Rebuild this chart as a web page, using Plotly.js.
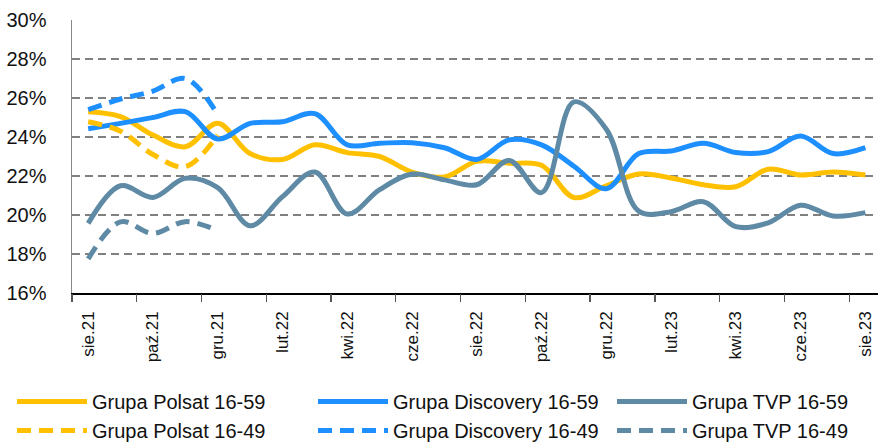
<!DOCTYPE html>
<html>
<head>
<meta charset="utf-8">
<script src="https://cdn.plot.ly/plotly-3.0.1.min.js"></script>
<style>
  html, body { margin: 0; padding: 0; background: #fff; }
  #plot { width: 878px; height: 445px; }
</style>
</head>
<body>
<div id="plot"></div>
<script>
// months sie.21 .. sie.23
var months = ["sie.21", "wrz.21", "paź.21", "lis.21", "gru.21", "sty.22", "lut.22", "mar.22", "kwi.22",
  "maj.22", "cze.22", "lip.22", "sie.22", "wrz.22", "paź.22", "lis.22", "gru.22", "sty.23", "lut.23",
  "mar.23", "kwi.23", "maj.23", "cze.23", "lip.23", "sie.23"];

// share in %
var polsat59 = [25.3, 25.05, 24.1, 23.5, 24.7, 23.15, 22.85, 23.6, 23.2, 23.0, 22.2, 21.95, 22.75,
  22.65, 22.55, 20.9, 21.5, 22.1, 21.9, 21.55, 21.45, 22.35, 22.05, 22.2, 22.05];
var discovery59 = [24.42, 24.7, 25.0, 25.3, 23.9, 24.7, 24.78, 25.2, 23.6, 23.68, 23.71, 23.45, 22.85,
  23.85, 23.6, 22.5, 21.35, 23.15, 23.28, 23.68, 23.2, 23.25, 24.05, 23.15, 23.45];
var tvp59 = [19.57, 21.5, 20.9, 21.88, 21.4, 19.45, 20.94, 22.2, 20.05, 21.3, 22.1, 21.8, 21.55,
  22.8, 21.15, 25.8, 24.4, 20.2, 20.17, 20.68, 19.4, 19.6, 20.5, 19.95, 20.12];

var polsat49 = [24.78, 24.3, 23.1, 22.48, 24.1];
var discovery49 = [25.4, 25.95, 26.35, 27.0, 25.15];
var tvp49 = [17.75, 19.65, 19.06, 19.66, 19.2];

var yTicks = [16, 18, 20, 22, 24, 26, 28, 30];

var FONT = "Liberation Sans, Arial, sans-serif";
var YELLOW = "#FFC000", BLUE = "#1E8FFF", GREY = "#5F8AA6";

var idx = months.map(function (m, i) { return i; });
var labelIdx = idx.filter(function (i) { return i % 2 === 0; });
var labelText = labelIdx.map(function (i) { return months[i]; });
var boundaries = labelIdx.map(function (i) { return i - 0.5; });

// one legend per column (Polsat / Discovery / TVP)
function series(name, y, color, dash, leg) {
  return {
    x: idx.slice(0, y.length), y: y, name: name, type: "scatter", mode: "lines",
    line: { color: color, width: 5, shape: "spline", smoothing: 1, dash: dash },
    legend: leg, legendgroup: name, hoverinfo: "skip"
  };
}

var DASH = "14px,8px";
var data = [
  series("Grupa Polsat 16-59", polsat59, YELLOW, "solid", "legend"),
  series("Grupa Discovery 16-59", discovery59, BLUE, "solid", "legend2"),
  series("Grupa TVP 16-59", tvp59, GREY, "solid", "legend3"),
  series("Grupa Polsat 16-49", polsat49, YELLOW, DASH, "legend"),
  series("Grupa Discovery 16-49", discovery49, BLUE, DASH, "legend2"),
  series("Grupa TVP 16-49", tvp49, GREY, DASH, "legend3"),
  // empty trace so the boundary tick axis gets drawn
  { x: [], y: [], xaxis: "x2", type: "scatter", showlegend: false, hoverinfo: "skip" }
];

var xRange = [-0.5, 24.39];

function legendAt(xpx) {
  return {
    orientation: "v", xref: "container", yref: "container",
    x: xpx / 878, y: 1 - 382 / 445, xanchor: "left", yanchor: "top",
    itemwidth: 70, tracegroupgap: 9, traceorder: "normal",
    font: { family: FONT, size: 20, color: "#111" },
    bgcolor: "rgba(0,0,0,0)", borderwidth: 0
  };
}

var layout = {
  width: 878, height: 445,
  margin: { l: 72, r: 0, t: 20, b: 152, autoexpand: false },
  paper_bgcolor: "#fff", plot_bgcolor: "#fff",
  font: { family: FONT, color: "#111", size: 18 },
  showlegend: true,
  xaxis: {
    range: xRange, tickmode: "array", tickvals: labelIdx, ticktext: labelText,
    tickangle: -90, ticks: "", showgrid: false, zeroline: false,
    showline: true, linecolor: "#000", linewidth: 1.5, automargin: false,
    ticklabelstandoff: 10,
    tickfont: { family: FONT, size: 17, color: "#111" }
  },
  xaxis2: {
    overlaying: "x", range: xRange, tickmode: "array", tickvals: boundaries,
    ticks: "outside", ticklen: 8, tickwidth: 1.3, tickcolor: "#555",
    showticklabels: false, showgrid: false, zeroline: false, showline: false
  },
  yaxis: {
    range: [16, 30], tickmode: "array", tickvals: yTicks,
    ticktext: yTicks.map(function (v) { return v + "%"; }),
    showgrid: true, gridcolor: "#808080", gridwidth: 2, griddash: "8px,5px",
    zeroline: false, showline: true, linecolor: "#888", linewidth: 1.5,
    ticks: "", ticklabelstandoff: 20, automargin: false,
    tickfont: { family: FONT, size: 20, color: "#111" }
  },
  legend: legendAt(12),
  legend2: legendAt(313),
  legend3: legendAt(612)
};

Plotly.newPlot("plot", data, layout, { displayModeBar: false, staticPlot: true });
</script>
</body>
</html>
